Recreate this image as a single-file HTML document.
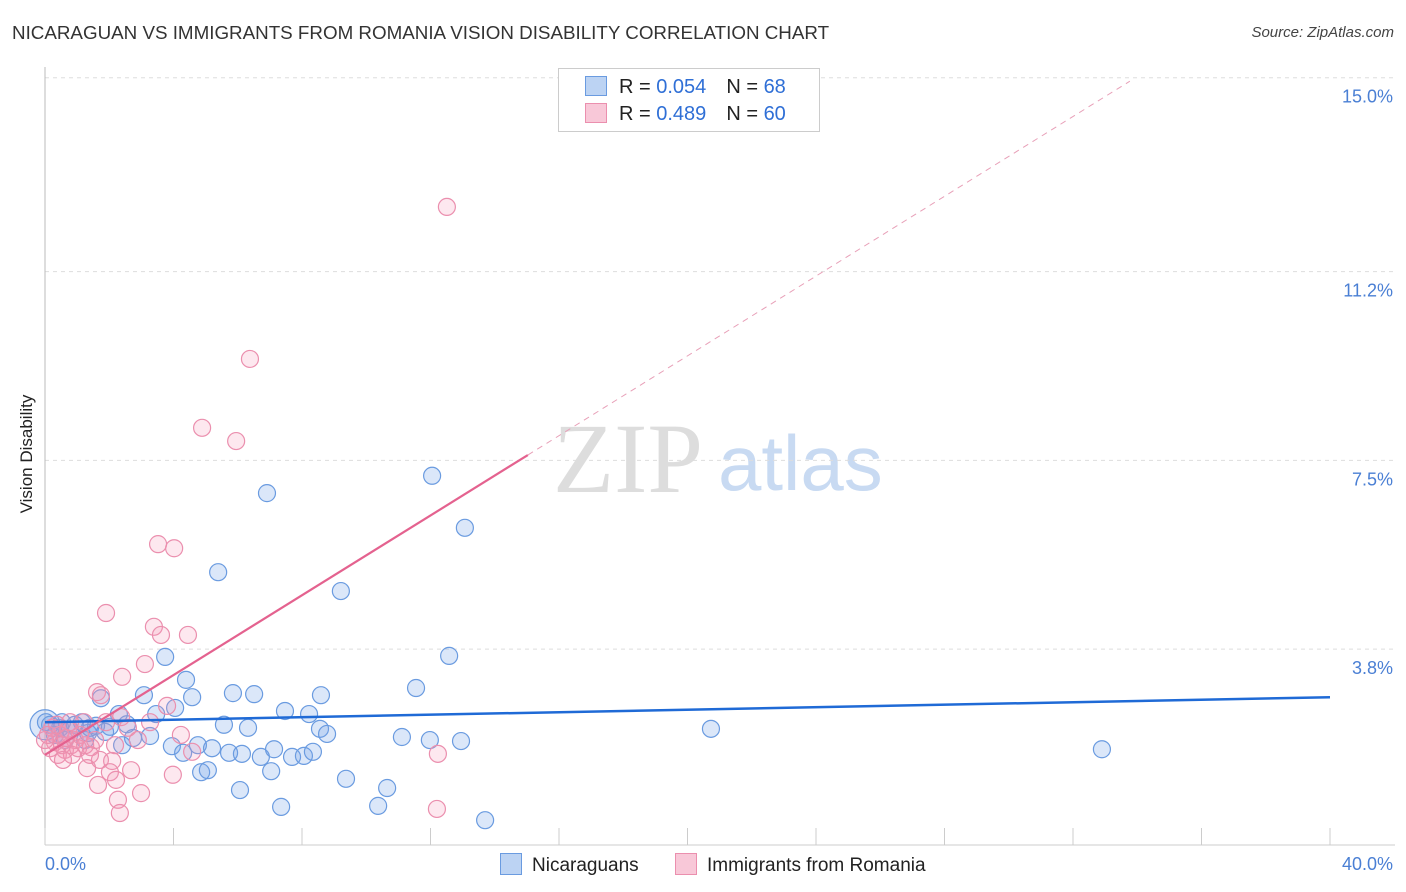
<!DOCTYPE html>
<html><head><meta charset="utf-8"><style>
body{margin:0;background:#fff;font-family:"Liberation Sans",sans-serif;}
#wrap{position:relative;width:1406px;height:892px;overflow:hidden;}
.t{position:absolute;white-space:nowrap;}
</style></head><body>
<div id="wrap">
<div class="t" style="left:12px;top:22px;font-size:18.8px;color:#333;">NICARAGUAN VS IMMIGRANTS FROM ROMANIA VISION DISABILITY CORRELATION CHART</div>
<div class="t" style="right:12px;top:24px;font-size:15px;color:#444;font-style:italic;">Source: ZipAtlas.com</div>
<div class="t" style="left:-38px;top:444px;font-size:17px;color:#222;transform:rotate(-90deg);width:130px;text-align:center;">Vision Disability</div>
<svg id="svg" width="1406" height="892" style="position:absolute;left:0;top:0;"></svg>
</div>
<script>
const xTicks=[0,40];
const yTicks=[3.8,7.5,11.2,15.0];
const blueX=[12.05,6.91,13.07,5.39,9.21,3.74,12.58,4.39,1.74,3.08,4.58,5.85,6.51,8.59,11.55,4.05,2.30,3.46,7.47,8.22,1.15,1.59,2.02,2.55,5.57,6.32,8.56,8.78,11.11,11.98,12.95,20.73,32.90,2.74,3.27,3.95,4.76,5.20,5.73,6.13,6.72,7.13,7.69,8.06,8.34,4.30,2.40,4.86,5.07,7.04,9.37,10.65,6.07,7.35,10.37,13.70,0.47,0.78,0.16,0.31,0.62,1.34,0.93,1.25,1.40,1.87,0.03,0.53];
const blueY=[7.57,7.23,6.55,5.68,5.31,4.02,4.04,3.57,3.21,3.27,3.23,3.31,3.29,3.27,3.41,3.02,2.90,2.90,2.96,2.90,2.74,2.67,2.65,2.70,2.69,2.63,2.61,2.51,2.45,2.39,2.37,2.61,2.21,2.43,2.47,2.27,2.29,2.23,2.14,2.12,2.06,2.21,2.06,2.08,2.16,2.14,2.29,1.76,1.80,1.78,1.63,1.45,1.41,1.08,1.10,0.82,2.63,2.59,2.69,2.49,2.39,2.53,2.69,2.39,2.63,2.55,2.74,2.74];
const pinkX=[12.51,6.38,4.89,5.95,3.52,4.02,1.90,3.39,4.45,3.61,3.11,2.40,1.62,1.74,3.80,2.37,1.90,1.21,3.27,4.23,1.43,0.81,1.71,2.09,1.31,2.02,2.68,3.98,4.58,2.21,1.65,2.99,2.27,2.33,12.20,12.23,0.47,0.31,0.62,0.93,0.16,0.40,0.72,1.09,0.00,0.22,0.53,0.84,1.03,0.09,0.65,1.25,1.56,0.37,0.78,1.40,2.18,2.58,2.89,0.56];
const pinkY=[12.84,9.86,8.51,8.25,6.23,6.15,4.88,4.61,4.45,4.45,3.88,3.63,3.33,3.27,3.06,2.84,2.74,2.74,2.74,2.49,2.25,2.29,2.00,1.98,1.84,1.76,1.80,1.71,2.16,1.61,1.51,1.35,1.22,0.96,1.04,2.12,2.49,2.35,2.20,2.39,2.23,2.10,2.59,2.49,2.39,2.63,2.29,2.10,2.23,2.49,2.43,2.29,2.39,2.69,2.74,2.10,2.29,2.63,2.39,2.00];
const blueTrend=[2.74,3.23];
const pinkTrend=[2.10,0.391];
const xs=v=>45+v*32.125, ys=v=>862-v*51.02;
const svg=document.getElementById('svg'),NS='http://www.w3.org/2000/svg';
function mk(t,a,p){const e=document.createElementNS(NS,t);for(const k in a)e.setAttribute(k,a[k]);(p||svg).appendChild(e);return e;}
let w=mk('text',{x:553,y:492,'font-family':'Liberation Serif, serif','font-size':100,fill:'#ddd'});w.textContent='ZIP';


w=mk('text',{x:718,y:490,'font-family':'Liberation Sans, sans-serif','font-size':78,fill:'#c8daf2'});w.textContent='atlas';


yTicks.forEach(v=>{const y=ys(v);
 const g=mk('line',{x1:45,x2:1395,y1:y-19,y2:y-19,stroke:'#ddd','stroke-dasharray':'4,4'});
 
 
 const t=mk('text',{x:1393,y:y+6,'text-anchor':'end','font-size':18,fill:'#4a7fd4','font-family':'Liberation Sans, sans-serif'});t.textContent=v.toFixed(1)+'%';
 
 
});
mk('line',{x1:45,x2:45,y1:67,y2:845,stroke:'#bbb'});
mk('line',{x1:45,x2:1395,y1:845,y2:845,stroke:'#ccc'});
for(let i=0;i<=10;i++){const x=xs(i*4);const tk=mk('line',{x1:x,x2:x,y1:828,y2:845,stroke:'#ccc'});
 
 }
xTicks.forEach((v,i)=>{const t=mk('text',{x:i?1393:45,y:870,'text-anchor':i?'end':'start','font-size':18,fill:'#4a7fd4','font-family':'Liberation Sans, sans-serif'});t.textContent=v.toFixed(1)+'%';
 
 });
let big=mk('circle',{cx:xs(0),cy:ys(2.69),r:15,fill:'rgba(110,160,230,0.25)',stroke:'#6a9be0','stroke-width':1.2});


blueX.forEach((v,i)=>{const c=mk('circle',{cx:xs(v),cy:ys(blueY[i]),r:8.5,fill:'rgba(110,160,230,0.25)',stroke:'#6a9be0','stroke-width':1.2});
 
 });
pinkX.forEach((v,i)=>{const c=mk('circle',{cx:xs(v),cy:ys(pinkY[i]),r:8.5,fill:'rgba(244,150,180,0.22)',stroke:'#eb8fae','stroke-width':1.2});
 
 });
let l=mk('line',{x1:xs(0),y1:ys(blueTrend[0]),x2:xs(40),y2:ys(blueTrend[1]),stroke:'#1f6ad6','stroke-width':2.5});


l=mk('line',{x1:xs(0),y1:ys(pinkTrend[0]),x2:xs(15.03),y2:ys(pinkTrend[0]+pinkTrend[1]*15.03),stroke:'#e4628f','stroke-width':2.2});


l=mk('line',{x1:xs(15.03),y1:ys(pinkTrend[0]+pinkTrend[1]*15.03),x2:xs(33.77),y2:ys(pinkTrend[0]+pinkTrend[1]*33.77),stroke:'#e8a0b8','stroke-width':1,'stroke-dasharray':'6,5'});


</script>
<div style="position:absolute;left:558px;top:68px;width:260px;height:62px;border:1px solid #ccc;background:#fff;font-size:20px;">
 <div style="position:absolute;left:26px;top:7px;"><span style="display:inline-block;width:20px;height:18px;background:#bcd3f3;border:1px solid #6a9be0;vertical-align:-3px;"></span><span style="margin-left:12px;color:#222">R = </span><span style="color:#2f6fd6">0.054</span><span style="margin-left:20px;color:#222">N = </span><span style="color:#2f6fd6">68</span></div>
 <div style="position:absolute;left:26px;top:34px;"><span style="display:inline-block;width:20px;height:18px;background:#f8c8d8;border:1px solid #eb8fae;vertical-align:-3px;"></span><span style="margin-left:12px;color:#222">R = </span><span style="color:#2f6fd6">0.489</span><span style="margin-left:20px;color:#222">N = </span><span style="color:#2f6fd6">60</span></div>
</div>
<div class="t" style="left:500px;top:853px;font-size:19px;color:#222;"><span style="display:inline-block;width:20px;height:20px;background:#bcd3f3;border:1px solid #6a9be0;vertical-align:-4px;margin-right:10px;"></span>Nicaraguans</div>
<div class="t" style="left:675px;top:853px;font-size:19px;color:#222;"><span style="display:inline-block;width:20px;height:20px;background:#f8c8d8;border:1px solid #eb8fae;vertical-align:-4px;margin-right:10px;"></span>Immigrants from Romania</div>
</body></html>
